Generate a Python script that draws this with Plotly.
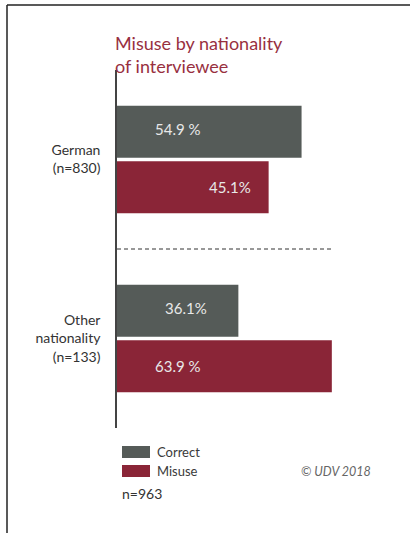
import plotly.graph_objects as go

# ---- data ----
categories = ["German<br>(n=830)", "Other<br>nationality<br>(n=133)"]
series_names = ["Correct", "Misuse"]
correct_values = [54.9, 36.1]
misuse_values = [45.1, 63.9]
correct_labels = ["54.9 %", "36.1%"]
misuse_labels = ["45.1%", "63.9 %"]
title_text = "Misuse by nationality<br>of interviewee"
total_note = "n=963"
source_note = "© UDV 2018"

# ---- styling ----
W, H = 410, 533
ML, MR, MT, MB = 117, 0, 70, 105
PX_PER_PCT = 3.362
GRAY = "#555b58"
RED = "#8a2537"
TITLE_RED = "#98303f"
FONT = "Lato"
# label centre positions inside bars (in % units along the x axis)
correct_label_pos = [18.1, 20.5]
misuse_label_pos = [33.6, 18.1]

plot_w = W - ML - MR
plot_h = H - MT - MB
x_max = plot_w / PX_PER_PCT


def px(xp):
    return (xp - ML) / plot_w


def py(yp):
    return (H - MB - yp) / plot_h


fig = go.Figure()
fig.add_trace(go.Bar(name=series_names[0], y=categories, x=correct_values,
                     orientation="h", marker=dict(color=GRAY, line=dict(width=0)),
                     hoverinfo="skip"))
fig.add_trace(go.Bar(name=series_names[1], y=categories, x=misuse_values,
                     orientation="h", marker=dict(color=RED, line=dict(width=0)),
                     hoverinfo="skip"))

off = 29 / (plot_h / 2)
annotations = []
for i in range(len(categories)):
    annotations.append(dict(x=correct_label_pos[i], y=i - off, xref="x", yref="y",
                            text=correct_labels[i], showarrow=False, yshift=2,
                            font=dict(family=FONT, size=15, color="#e8e8e8")))
    annotations.append(dict(x=misuse_label_pos[i], y=i + off, xref="x", yref="y",
                            text=misuse_labels[i], showarrow=False, yshift=2,
                            font=dict(family=FONT, size=15, color="#e8e8e8")))

annotations.append(dict(x=px(113), y=py(30), xref="paper", yref="paper",
                        xanchor="left", yanchor="top", align="left",
                        text=title_text, showarrow=False,
                        font=dict(family=FONT, size=18, color=TITLE_RED)))
for name, yc in zip(series_names, [452, 471]):
    annotations.append(dict(x=px(155), y=py(yc), xref="paper", yref="paper",
                            xanchor="left", yanchor="middle", text=name,
                            showarrow=False,
                            font=dict(family=FONT, size=13, color="#3a3a3a")))
annotations.append(dict(x=px(299), y=py(471), xref="paper", yref="paper",
                        xanchor="left", yanchor="middle",
                        text="<i>" + source_note + "</i>", showarrow=False,
                        font=dict(family=FONT, size=12.5, color="#666666")))
annotations.append(dict(x=px(120), y=py(493), xref="paper", yref="paper",
                        xanchor="left", yanchor="middle", text=total_note,
                        showarrow=False,
                        font=dict(family=FONT, size=14, color="#333333")))

shapes = [
    # frame
    dict(type="line", xref="paper", yref="paper", x0=px(7), x1=px(7),
         y0=py(5), y1=py(H + 5), line=dict(color="#222222", width=1.5)),
    dict(type="line", xref="paper", yref="paper", x0=px(7), x1=px(W + 5),
         y0=py(5), y1=py(5), line=dict(color="#222222", width=1.5)),
    # separator
    dict(type="line", xref="x", yref="y", x0=0,
         x1=max(correct_values + misuse_values) + 0.3, y0=0.5, y1=0.5,
         line=dict(color="#333333", width=1, dash="4px,3px")),
    # legend swatches
    dict(type="rect", xref="paper", yref="paper", x0=px(122), x1=px(150),
         y0=py(446), y1=py(458), fillcolor=GRAY, line=dict(width=0)),
    dict(type="rect", xref="paper", yref="paper", x0=px(122), x1=px(150),
         y0=py(465), y1=py(477), fillcolor=RED, line=dict(width=0)),
]

fig.update_layout(
    width=W, height=H,
    margin=dict(l=ML, r=MR, t=MT, b=MB, pad=0),
    paper_bgcolor="white", plot_bgcolor="white",
    barmode="group", bargap=0.38, bargroupgap=0.06,
    showlegend=False,
    annotations=annotations, shapes=shapes,
    font=dict(family=FONT),
)
fig.update_xaxes(range=[0, x_max], visible=False, fixedrange=True)
fig.update_yaxes(autorange=False, range=[1.5, -0.5], showline=True,
                 linecolor="#444444", linewidth=1.5, showgrid=False,
                 zeroline=False, ticks="", ticklabelstandoff=12,
                 tickfont=dict(family=FONT, size=14, color="#333333"),
                 fixedrange=True)

fig.write_html("out.html", config={"displayModeBar": False},
               post_script="document.body.style.margin='0';document.body.style.overflow='hidden';")
